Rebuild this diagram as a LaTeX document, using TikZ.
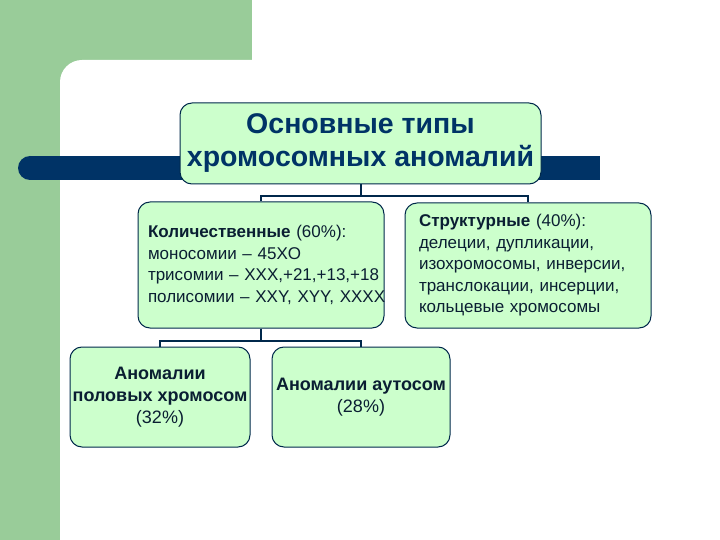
\documentclass[tikz,border=0pt]{standalone}
\usepackage{fontspec}
\setmainfont{Liberation Sans}
\definecolor{bggreen}{RGB}{153,204,153}
\definecolor{barblue}{RGB}{0,51,102}
\definecolor{boxfill}{RGB}{204,255,204}
\definecolor{navy}{RGB}{0,40,75}
\definecolor{txt}{RGB}{10,30,50}
\begin{document}
\begin{tikzpicture}[x=1pt,y=-1pt,
  box/.style={draw=navy, line width=1pt, fill=boxfill, rounded corners=12pt, inner sep=0pt, text=txt},
  conn/.style={draw=navy, line width=2pt}]
\useasboundingbox (0,0) rectangle (720,540);
\clip (0,0) rectangle (720,540);
\fill[white] (0,0) rectangle (720,540);
\fill[bggreen] (0,0) rectangle (252,60);
\fill[bggreen] (0,0) rectangle (60,540);
\fill[bggreen] (0,0) rectangle (100,100);
\fill[white,rounded corners=22pt] (60,600) -- (60,60) -- (780,60) -- (780,600) -- cycle;
\fill[barblue] (30,156) rectangle (600,180);
\fill[barblue] (30,168) circle (12);
\node[box, minimum width=361pt, minimum height=81pt, align=center, text=barblue,
      font=\fontsize{28.5}{33}\selectfont\bfseries] (top) at (360.5,143.5)
  {Основные типы\\хромосомных аномалий};
\node[box, minimum width=246pt, minimum height=126pt, text width=226pt, inner xsep=10pt, align=left,
      font=\fontsize{17}{21.5}\selectfont] (q) at (261,265)
  {\mbox{\textbf{Количественные} (60\%):}\\
   \mbox{моносомии – 45XO}\\
   \mbox{трисомии – XXX,+21,+13,+18}\\
   \mbox{полисомии – XXY, XYY, XXXX}};
\node[box, minimum width=246pt, minimum height=125pt, text width=218pt, inner xsep=14pt, align=left,
      font=\fontsize{17}{21.5}\selectfont] (s) at (528,265.5)
  {\mbox{\textbf{Структурные} (40\%):}\\
   \mbox{делеции, дупликации,}\\
   \mbox{изохромосомы, инверсии,}\\
   \mbox{транслокации, инсерции,}\\
   \mbox{кольцевые хромосомы}};
\node[box, minimum width=180pt, minimum height=100pt, align=center,
      font=\fontsize{18}{22}\selectfont] (sex) at (160,397)
  {\textbf{Аномалии}\\\textbf{половых хромосом}\\(32\%)};
\node[box, minimum width=178pt, minimum height=100pt, align=center,
      font=\fontsize{18}{22}\selectfont] (auto) at (361,397)
  {\textbf{Аномалии аутосом}\\(28\%)};
\draw[conn] (top.south) -- ++(0,12) -| (q.north);
\draw[conn] (top.south) -- ++(0,12) -| (s.north);
\draw[conn] (q.south) -- ++(0,12) -| (sex.north);
\draw[conn] (q.south) -- ++(0,12) -| (auto.north);
\end{tikzpicture}
\end{document}
